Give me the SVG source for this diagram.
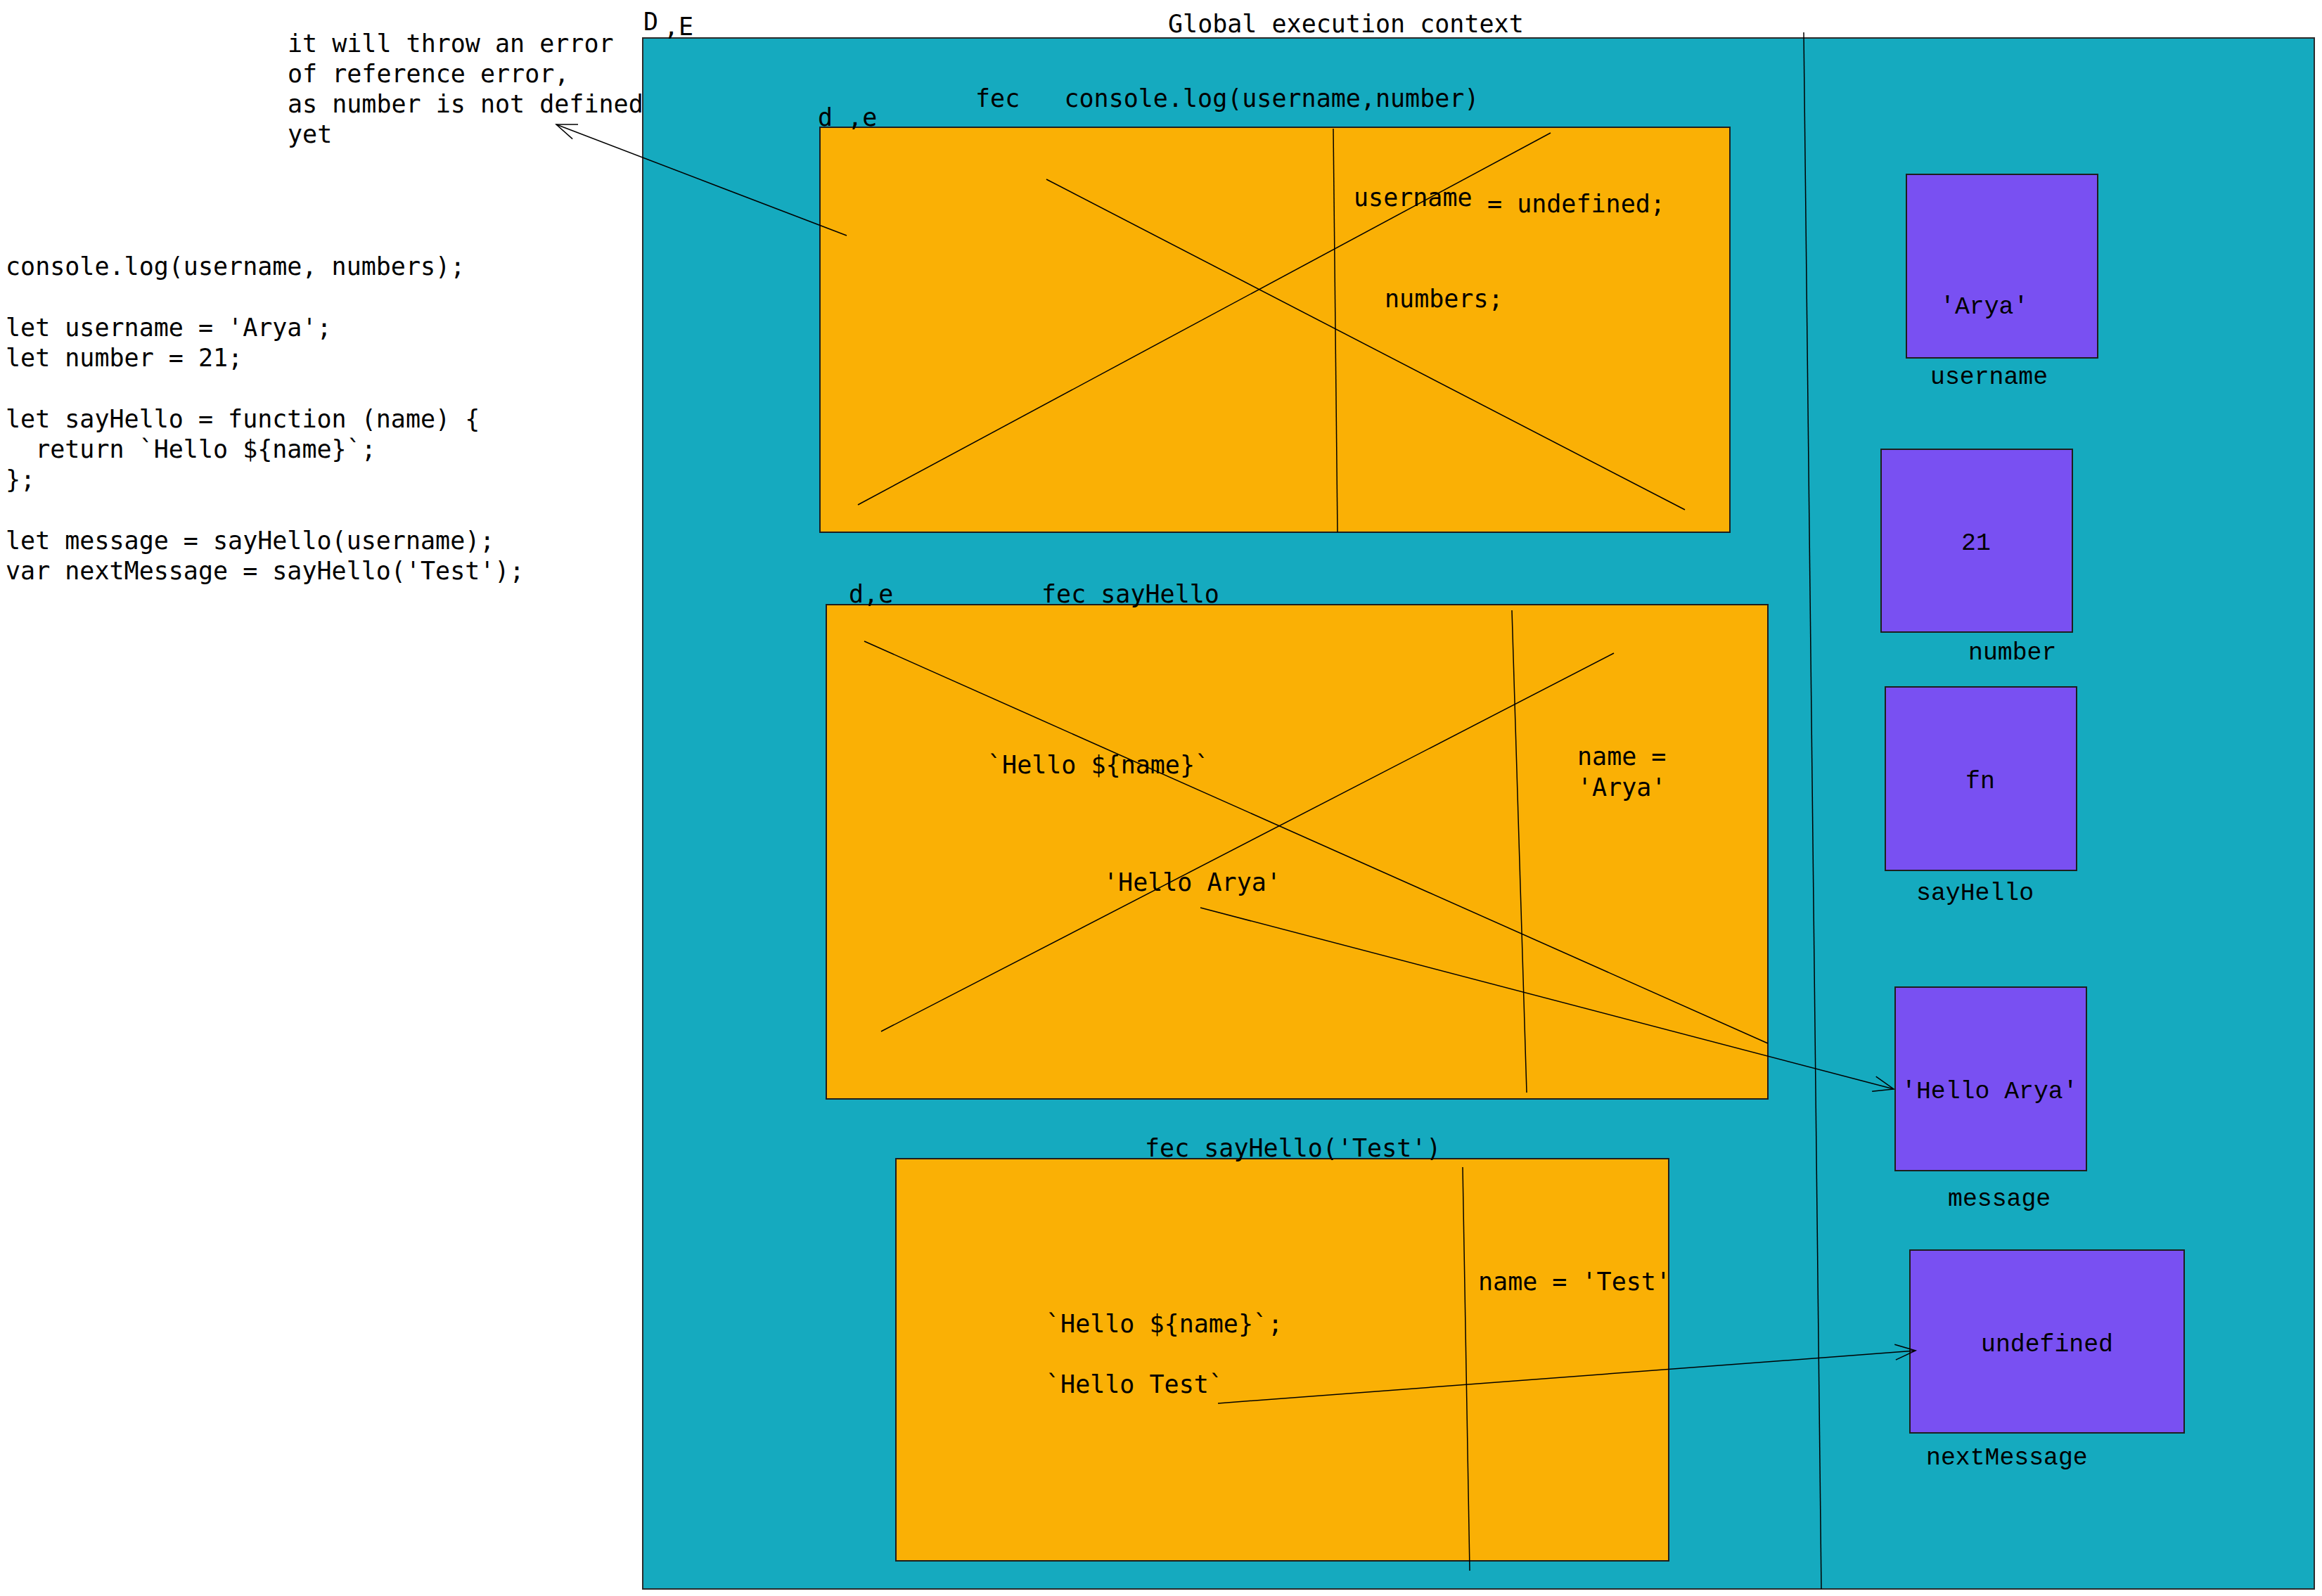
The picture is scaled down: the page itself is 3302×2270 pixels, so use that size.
<svg xmlns="http://www.w3.org/2000/svg" width="3302" height="2270" viewBox="0 0 3302 2270">
<defs>
<style>
.t{font-family:"DejaVu Sans Mono","Liberation Mono",monospace;font-size:35px;fill:#000}
.m{font-family:"Liberation Mono","DejaVu Sans Mono",monospace;font-size:34.8px;fill:#000}
.gec{fill:#15aabf;stroke:#2b2b2b;stroke-width:2}
.fec{fill:#fab005;stroke:#1e1e1e;stroke-width:2}
.mem{fill:#7950f2;stroke:#1e1e1e;stroke-width:2}
.ln{stroke:#000;stroke-width:1.5;fill:none}
</style>
<marker id="ah" markerUnits="userSpaceOnUse" markerWidth="40" markerHeight="30" viewBox="-34 -15 40 30" refX="0" refY="0" orient="auto">
<path d="M -29 -11 L 0 0 L -29 11" fill="none" stroke="#000" stroke-width="1.5"/>
</marker>
</defs>
<rect width="3302" height="2270" fill="#ffffff"/>

<g id="notes">
<text class="t" x="409" y="74">it will throw an error</text>
<text class="t" x="409" y="117">of reference error,</text>
<text class="t" x="409" y="160">as number is not defined</text>
<text class="t" x="409" y="203">yet</text>
</g>

<g id="code">
<text class="t" x="8" y="391">console.log(username, numbers);</text>
<text class="t" x="8" y="477.6">let username = 'Arya';</text>
<text class="t" x="8" y="520.9">let number = 21;</text>
<text class="t" x="8" y="607.5" xml:space="preserve">let sayHello = function (name) {</text>
<text class="t" x="8" y="650.8" xml:space="preserve">  return `Hello ${name}`;</text>
<text class="t" x="8" y="694.1">};</text>
<text class="t" x="8" y="780.7">let message = sayHello(username);</text>
<text class="t" x="8" y="824">var nextMessage = sayHello('Test');</text>
</g>

<g id="global-context">
<rect class="gec" x="914" y="54" width="2377" height="2206"/>
<line class="ln" x1="2565" y1="46" x2="2590" y2="2260"/>
<text class="t" x="915" y="43">D</text>
<text class="t" x="944" y="50">,E</text>
<text class="t" x="1661" y="46">Global execution context</text>
</g>

<g id="fec-console-log">
<rect class="fec" x="1166" y="181" width="1294" height="576"/>
<line class="ln" x1="1896" y1="183" x2="1902" y2="757"/>
<line class="ln" x1="1220" y1="718" x2="2205" y2="189"/>
<line class="ln" x1="1488" y1="255" x2="2396" y2="725"/>
<text class="t" x="1163" y="179" xml:space="preserve">d ,e</text>
<text class="t" x="1387" y="152" xml:space="preserve">fec   console.log(username,number)</text>
<text class="t" x="1925" y="293">username</text>
<text class="t" x="2115" y="302">= undefined;</text>
<text class="t" x="1969" y="437">numbers;</text>
</g>

<g id="fec-sayHello">
<rect class="fec" x="1175" y="860" width="1339" height="703"/>
<line class="ln" x1="2150" y1="868" x2="2171" y2="1554"/>
<line class="ln" x1="1229" y1="912" x2="2514" y2="1484"/>
<line class="ln" x1="1253" y1="1467" x2="2295" y2="929"/>
<text class="t" x="1207" y="857">d,e</text>
<text class="t" x="1481" y="857">fec sayHello</text>
<text class="t" x="1404" y="1100">`Hello ${name}`</text>
<text class="t" x="2243" y="1088">name =</text>
<text class="t" x="2243" y="1132">'Arya'</text>
<text class="t" x="1569" y="1267">'Hello Arya'</text>
</g>

<g id="fec-sayHello-test">
<rect class="fec" x="1274" y="1648" width="1099" height="572"/>
<line class="ln" x1="2080" y1="1660" x2="2090" y2="2234"/>
<text class="t" x="1628" y="1645">fec sayHello('Test')</text>
<text class="t" x="2102" y="1835">name = 'Test'</text>
<text class="t" x="1487" y="1895">`Hello ${name}`;</text>
<text class="t" x="1487" y="1981">`Hello Test`</text>
</g>

<g id="mem-username">
<rect class="mem" x="2711" y="248" width="272" height="261"/>
<text class="m" x="2759" y="446">'Arya'</text>
<text class="m" x="2745" y="546">username</text>
</g>

<g id="mem-number">
<rect class="mem" x="2675" y="639" width="272" height="260"/>
<text class="m" x="2789" y="782">21</text>
<text class="m" x="2799" y="938">number</text>
</g>

<g id="mem-sayHello">
<rect class="mem" x="2681" y="977" width="272" height="261"/>
<text class="m" x="2795" y="1121">fn</text>
<text class="m" x="2725" y="1280">sayHello</text>
</g>

<g id="mem-message">
<rect class="mem" x="2695" y="1404" width="272" height="261"/>
<text class="m" x="2704" y="1562">'Hello Arya'</text>
<text class="m" x="2770" y="1715">message</text>
</g>

<g id="mem-nextMessage">
<rect class="mem" x="2716" y="1778" width="390" height="260"/>
<text class="m" x="2817" y="1922">undefined</text>
<text class="m" x="2739" y="2083">nextMessage</text>
</g>

<g id="connectors">
<line class="ln" x1="1204" y1="335" x2="791" y2="177" marker-end="url(#ah)"/>
<line class="ln" x1="1707" y1="1291" x2="2693" y2="1549" marker-end="url(#ah)"/>
<line class="ln" x1="1732" y1="1996" x2="2724" y2="1921" marker-end="url(#ah)"/>
</g>
</svg>
